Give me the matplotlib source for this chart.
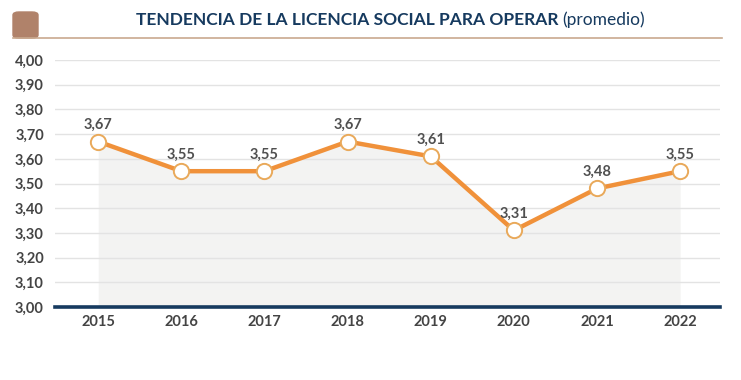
import numpy as np
import matplotlib.pyplot as plt
from matplotlib.patches import FancyBboxPatch

anios = ['2015', '2016', '2017', '2018', '2019', '2020', '2021', '2022']
promedio = [3.67, 3.55, 3.55, 3.67, 3.61, 3.31, 3.48, 3.55]
etiquetas_y = ['3,00', '3,10', '3,20', '3,30', '3,40', '3,50', '3,60', '3,70', '3,80', '3,90', '4,00']

plt.rcParams['font.family'] = ['Lato', 'DejaVu Sans']

fig = plt.figure(figsize=(7.41, 3.80), dpi=100)
ax = fig.add_axes([0.0742, 0.192, 0.8975, 0.650])

x = np.arange(len(anios))
ax.fill_between(x, 3.0, promedio, color='#f3f3f2', zorder=1, linewidth=0)
ax.plot(x, promedio, color='#f0913a', linewidth=3.2, zorder=3,
        marker='o', markersize=11, markerfacecolor='white',
        markeredgecolor='#e9a95a', markeredgewidth=1.4)

for xi, v in zip(x, promedio):
    ax.annotate(f'{v:.2f}'.replace('.', ','), (xi, v), xytext=(0, 7),
                textcoords='offset points', ha='center', va='bottom',
                fontsize=10.5, fontweight='bold', color='#505050', zorder=4)

ax.set_xlim(-0.52, 7.48)
ax.set_ylim(3.0, 4.0)
yt = np.linspace(3.0, 4.0, 11)
ax.set_yticks(yt)
ax.set_yticklabels(etiquetas_y)
ax.set_xticks(x)
ax.set_xticklabels(anios)
ax.tick_params(axis='both', length=0, labelsize=10.5, colors='#444444', pad=6)
for lab in ax.get_xticklabels() + ax.get_yticklabels():
    lab.set_fontweight('bold')
ax.tick_params(axis='y', pad=8)

ax.grid(axis='y', color='#e3e3e3', linewidth=1, zorder=2)
ax.set_axisbelow(False)
for s in ['top', 'right', 'left']:
    ax.spines[s].set_visible(False)
ax.spines['bottom'].set_color('#163a5f')
ax.spines['bottom'].set_linewidth(2.6)
ax.spines['bottom'].set_zorder(5)

# encabezado
fig.patches.append(FancyBboxPatch((13 / 741, 1 - 38 / 380), 25 / 741, 26 / 380,
                                  boxstyle='round,pad=0,rounding_size=0.008',
                                  transform=fig.transFigure, color='#b0826a'))
fig.add_artist(plt.Line2D([13 / 741, 722 / 741], [1 - 37.5 / 380, 1 - 37.5 / 380],
                          transform=fig.transFigure, color='#c9a98f', linewidth=1.2))
t1 = fig.text(136 / 741, 1 - 20 / 380, 'TENDENCIA DE LA LICENCIA SOCIAL PARA OPERAR',
              ha='left', va='center', fontsize=12.5, fontweight='bold', color='#163a5f')
fig.canvas.draw()
bb = t1.get_window_extent()
fig.text((bb.x1 + 4) / 741, 1 - 20 / 380, '(promedio)', ha='left', va='center',
         fontsize=12.5, color='#163a5f')

fig.savefig('out.png', dpi=100)
